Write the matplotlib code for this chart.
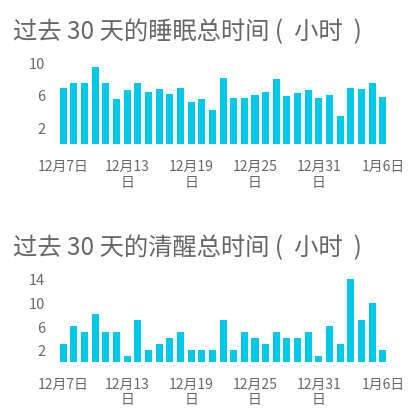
import matplotlib
matplotlib.use("Agg")
import matplotlib.pyplot as plt
import numpy as np

plt.rcParams['font.family'] = ['Noto Sans CJK SC', 'DejaVu Sans']

# 12月7日 .. 1月6日
days = ["12月7日", "12月8日", "12月9日", "12月10日", "12月11日", "12月12日",
        "12月13日", "12月14日", "12月15日", "12月16日", "12月17日", "12月18日",
        "12月19日", "12月20日", "12月21日", "12月22日", "12月23日", "12月24日",
        "12月25日", "12月26日", "12月27日", "12月28日", "12月29日", "12月30日",
        "12月31日", "1月1日", "1月2日", "1月3日", "1月4日", "1月5日", "1月6日"]
sleep_hours = [6.8, 7.5, 7.4, 9.4, 7.45, 5.5, 6.6, 7.5, 6.4, 6.7, 6.1, 6.9, 5.1,
               5.5, 4.2, 8.1, 5.6, 5.6, 6.0, 6.4, 8.0, 5.9, 6.2, 6.6, 5.6, 6.0,
               3.4, 6.9, 6.7, 7.4, 5.8]
awake_hours = [3, 6, 5, 8, 5, 5, 1, 7, 2, 3, 4, 5, 2, 2, 2, 7, 2, 5, 4, 3, 5, 4,
               4, 5, 1, 6, 3, 14, 7, 10, 2]
tick_idx = [0, 6, 12, 18, 24, 30]
tick_labels = ["12月7日", "12月13\n日", "12月19\n日", "12月25\n日", "12月31\n日", "1月6日"]

bar_color = "#00C8E8"
text_color = "#666666"

fig = plt.figure(figsize=(4.13, 4.10), dpi=100)

def draw(ax, values, ymax, yticks):
    x = np.arange(len(values))
    ax.bar(x, values, width=0.66, color=bar_color)
    ax.set_xlim(-0.5, len(values) - 0.5)
    ax.set_ylim(0, ymax)
    ax.set_yticks(yticks)
    ax.set_xticks(tick_idx)
    ax.set_xticklabels(tick_labels, linespacing=1.1)
    ax.tick_params(axis='y', length=0, pad=9, labelsize=10.5, labelcolor=text_color)
    ax.tick_params(axis='x', length=0, pad=11, labelsize=10, labelcolor=text_color)
    for s in ax.spines.values():
        s.set_visible(False)

ax1 = fig.add_axes([0.140, 0.646, 0.800, 0.200])
draw(ax1, sleep_hours, 10, [2, 6, 10])
ax2 = fig.add_axes([0.140, 0.115, 0.800, 0.2024])
draw(ax2, awake_hours, 14, [2, 6, 10, 14])

fig.text(13 / 413, 1 - 32 / 410, "过去 30 天的睡眠总时间 (  小时  )",
         fontsize=17.5, color=text_color, va='center', ha='left')
fig.text(13 / 413, 1 - 248 / 410, "过去 30 天的清醒总时间 (  小时  )",
         fontsize=17.5, color=text_color, va='center', ha='left')

fig.savefig("out.png", dpi=100)
